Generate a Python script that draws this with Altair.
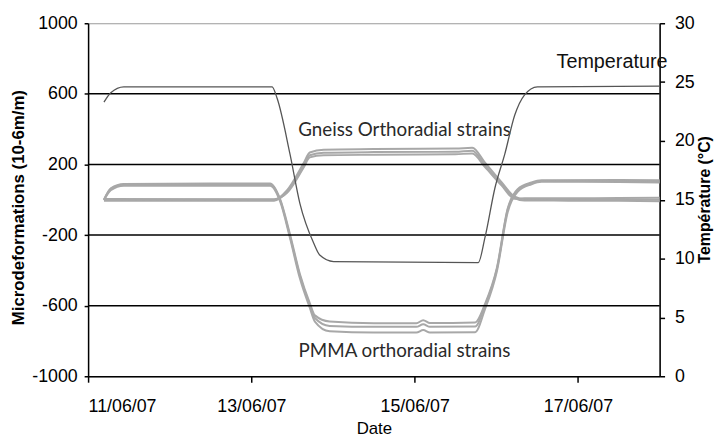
import altair as alt
import pandas as pd

# ---------------- data ----------------
temp_time = ["2007-06-11T04:40", "2007-06-11T06:40", "2007-06-11T10:30", "2007-06-13T06:05",
             "2007-06-13T07:35", "2007-06-13T11:20", "2007-06-13T14:15", "2007-06-13T18:20",
             "2007-06-13T20:05", "2007-06-14T00:10", "2007-06-15T18:40", "2007-06-15T20:40",
             "2007-06-15T23:35", "2007-06-16T02:30", "2007-06-16T05:25", "2007-06-16T08:15",
             "2007-06-16T12:05", "2007-06-18T00:00"]
temp_val = [23.3, 24.1, 24.6, 24.6, 23.6, 18.9, 14.7, 11.3, 10.3, 9.75, 9.65, 11.8,
            16.0, 18.9, 22.2, 23.9, 24.6, 24.65]

gneiss_time = ["2007-06-11T04:40", "2007-06-13T06:40", "2007-06-13T10:30", "2007-06-13T15:25",
               "2007-06-13T17:10", "2007-06-13T21:15", "2007-06-14T12:00", "2007-06-15T12:00",
               "2007-06-15T16:55", "2007-06-15T20:40", "2007-06-16T01:35", "2007-06-16T05:25",
               "2007-06-16T08:15", "2007-06-17T12:00", "2007-06-18T00:00"]
gneiss_1 = [0, 0, 55, 210, 268, 284, 287, 290, 295, 210, 98, 18, 4, 2, 0]
gneiss_2 = [-5, -5, 45, 195, 252, 266, 270, 272, 278, 195, 88, 10, -4, -6, -8]
gneiss_3 = [5, 3, 40, 185, 240, 252, 255, 258, 262, 185, 80, 5, 8, 10, 12]

pmma_time = ["2007-06-11T04:40", "2007-06-11T06:40", "2007-06-11T10:30", "2007-06-12T12:00",
             "2007-06-13T05:30", "2007-06-13T08:25", "2007-06-13T11:20", "2007-06-13T14:15",
             "2007-06-13T17:10", "2007-06-13T18:40", "2007-06-13T23:00", "2007-06-14T12:00",
             "2007-06-15T00:30", "2007-06-15T02:30", "2007-06-15T04:30", "2007-06-15T17:45",
             "2007-06-15T20:40", "2007-06-16T00:10", "2007-06-16T03:20", "2007-06-16T06:15",
             "2007-06-16T10:20", "2007-06-16T13:15", "2007-06-17T12:00", "2007-06-18T00:00"]
pmma_1 = [0, 65, 90, 92, 92, 5, -195, -420, -585, -655, -690, -700, -700, -682, -698, -695,
          -590, -385, -50, 60, 98, 110, 112, 110]
pmma_2 = [0, 60, 85, 86, 86, 0, -205, -430, -598, -670, -715, -720, -720, -705, -720, -718,
          -600, -392, -57, 54, 93, 106, 105, 104]
pmma_3 = [-3, 55, 80, 80, 80, -8, -215, -445, -612, -690, -745, -752, -752, -738, -752, -750,
          -620, -405, -70, 45, 88, 102, 100, 98]

left_ticks = [-1000, -600, -200, 200, 600, 1000]
grid_vals = [600, 200, -200, -600]
right_ticks = [0, 5, 10, 15, 20, 25, 30]

labels_text = ["Temperature", "Gneiss Orthoradial strains", "PMMA orthoradial strains"]
labels_time = ["2007-06-17T10:00", "2007-06-14T21:00", "2007-06-14T21:00"]
labels_val = [780, 395, -855]

# ---------------- tables ----------------
rows = []
for name, vals in [("G1", gneiss_1), ("G2", gneiss_2), ("G3", gneiss_3)]:
    for t, v in zip(gneiss_time, vals):
        rows.append({"t": t + ":00Z", "v": v, "s": name})
for name, vals in [("P1", pmma_1), ("P2", pmma_2), ("P3", pmma_3)]:
    for t, v in zip(pmma_time, vals):
        rows.append({"t": t + ":00Z", "v": v, "s": name})
strain_df = pd.DataFrame(rows)
temp_df = pd.DataFrame({"t": [t + ":00Z" for t in temp_time], "temp": temp_val})
grid_df = pd.DataFrame({"v": grid_vals})
lab_df = pd.DataFrame({"t": [t + ":00Z" for t in labels_time], "v": labels_val, "txt": labels_text})

FONT = "Liberation Sans"

def dt(d, h=0):
    return alt.DateTime(year=2007, month=6, date=d, hours=h, utc=True)

x_scale = alt.Scale(type="utc", domain=[dt(11), dt(18)])
x_axis = alt.Axis(values=[dt(11), dt(13), dt(15), dt(17)], format="%d/%m/%y",
                  title="Date", grid=False, tickSize=6, tickWidth=1.5,
                  domainWidth=1.5, labelPadding=16, labelFontSize=18, labelFont=FONT,
                  titleFont=FONT, titleFontSize=17, titleFontWeight="normal", titlePadding=5)
x_enc = alt.X("t:T", scale=x_scale, axis=x_axis)

left_scale = alt.Scale(domain=[-1000, 1000], nice=False, zero=False)
right_scale = alt.Scale(domain=[0, 30], nice=False, zero=False)
left_axis = alt.Axis(values=left_ticks, grid=False, tickSize=4, tickWidth=1.5,
                     domainWidth=1.5, labelPadding=7, labelFontSize=18, labelFont=FONT,
                     labelExpr="'' + datum.value",
                     title="Microdeformations (10-6m/m)", titleFont=FONT, titleFontSize=17,
                     titleFontWeight="bold", titleAngle=270, titleX=-70, titleY=186,
                     titleAlign="center", titleBaseline="middle")
y_left = alt.Y("v:Q", scale=left_scale, axis=left_axis)

strains = alt.Chart(strain_df).mark_line(color="#a8a8a8", strokeWidth=2, interpolate="monotone").encode(
    x=x_enc, y=y_left, detail="s:N",
)

grid = alt.Chart(grid_df).mark_rule(color="black", strokeWidth=1.5).encode(y=y_left)

texts_arial = alt.Chart(lab_df.iloc[[0]]).mark_text(
    font=FONT, fontSize=20, color="#111", align="center", baseline="middle"
).encode(x=x_enc, y=y_left, text="txt:N")

texts_calibri = alt.Chart(lab_df.iloc[[1, 2]]).mark_text(
    font="Lato", fontSize=19, color="#2a2a2a", align="center", baseline="middle"
).encode(x=x_enc, y=y_left, text="txt:N")

left = alt.layer(strains, grid, texts_arial, texts_calibri)

temp = alt.Chart(temp_df).mark_line(color="#555555", strokeWidth=1.3, interpolate="monotone").encode(
    x=x_enc,
    y=alt.Y("temp:Q", scale=right_scale,
            axis=alt.Axis(orient="right", values=right_ticks, grid=False, tickSize=5,
                          tickWidth=1.5, domainWidth=1.5, labelPadding=10, labelFontSize=18,
                          labelFont=FONT, titleFont=FONT,
                          title="Température (°C)", titleFontSize=16, titleFontWeight="bold",
                          titleAngle=270, titleX=45, titleY=178, titleAlign="center",
                          titleBaseline="middle")),
)

chart = alt.layer(left, temp).resolve_scale(y="independent").properties(
    width=578, height=357,
    autosize=alt.AutoSizeParams(type="none"),
    padding={"left": 81, "top": 13, "right": 57, "bottom": 61},
).configure_view(stroke="#999999", strokeWidth=1).configure_axis(
    labelFont=FONT, titleFont=FONT, labelColor="black", titleColor="black",
    domainColor="black", tickColor="black"
)

chart.save("out.html", embed_options={"renderer": "svg", "actions": False})
